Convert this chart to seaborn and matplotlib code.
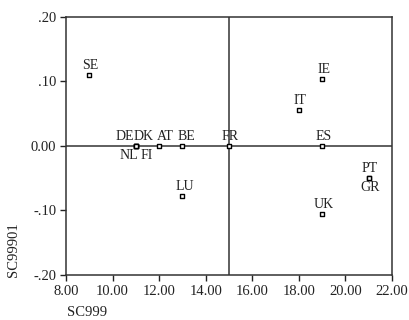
import matplotlib
matplotlib.use("Agg")
import matplotlib.pyplot as plt
import seaborn as sns
import pandas as pd

countries = ["SE", "DE", "DK", "NL", "FI", "AT", "BE", "FR", "ES", "IE", "IT", "LU", "PT", "GR", "UK"]
sc999 = [9.0, 11.0, 11.0, 11.0, 11.0, 12.0, 13.0, 15.0, 19.0, 19.0, 18.0, 13.0, 21.0, 21.0, 19.0]
sc99901 = [0.11, 0.0, 0.0, 0.0, 0.0, 0.0, 0.0, 0.0, 0.0, 0.104, 0.055, -0.077, -0.049, -0.049, -0.105]
x_ticks = [8, 10, 12, 14, 16, 18, 20, 22]
y_ticks = [-0.2, -0.1, 0.0, 0.1, 0.2]
y_tick_labels = ["-.20", "-.10", "0.00", ".10", ".20"]

df = pd.DataFrame({"SC999": sc999, "SC99901": sc99901, "country": countries})

sns.set_style("white")
plt.rcParams["font.family"] = ["Liberation Serif", "DejaVu Serif"]

fig = plt.figure(figsize=(4.1, 3.2), dpi=100)
ax = fig.add_axes([0.161, 0.141, 0.795, 0.806])

ax.axvline(15, color="#333333", lw=1.1, zorder=1)
ax.axhline(0, color="#333333", lw=1.1, zorder=1)

sns.scatterplot(data=df, x="SC999", y="SC99901", ax=ax, marker="s", s=8,
                facecolor="white", edgecolor="black", linewidth=1.0, zorder=3)

# label offsets (pixels): dx, dy, va
offsets = {
    "SE": (1, 3, "bottom"), "DE": (-11, 3, "bottom"), "DK": (8, 3, "bottom"),
    "NL": (-7, -3, "top"), "FI": (11, -3, "top"), "AT": (6, 3, "bottom"),
    "BE": (4, 3, "bottom"), "FR": (1, 3, "bottom"), "ES": (2, 3, "bottom"),
    "IE": (2, 3, "bottom"), "IT": (1, 3, "bottom"), "LU": (2, 3, "bottom"),
    "PT": (1, 3, "bottom"), "GR": (1, -3, "top"), "UK": (2, 3, "bottom"),
}
for c, x, y in zip(countries, sc999, sc99901):
    dx, dy, va = offsets[c]
    ax.annotate(c, (x, y), xytext=(dx * 0.72, dy * 0.72), textcoords="offset points",
                ha="center", va=va, fontsize=10, color="#222222")

ax.set_xlim(8, 22)
ax.set_ylim(-0.2, 0.2)
ax.set_xticks(x_ticks)
ax.set_xticklabels([f"{v:.2f}" for v in x_ticks])
ax.set_yticks(y_ticks)
ax.set_yticklabels(y_tick_labels)
ax.tick_params(axis="both", direction="out", length=4, width=1, labelsize=10.5,
               colors="#222222", bottom=True, left=True, pad=3)
ax.set_xlabel("")
ax.set_ylabel("")
for sp in ax.spines.values():
    sp.set_color("#333333")
    sp.set_linewidth(1.1)

fig.text(0.033, 0.22, "SC99901", rotation=90, ha="center", va="center",
         fontsize=10.5, color="#222222")
fig.text(0.163, 0.004, "SC999", ha="left", va="bottom", fontsize=10.5, color="#222222")

fig.savefig("out.png", dpi=100)
